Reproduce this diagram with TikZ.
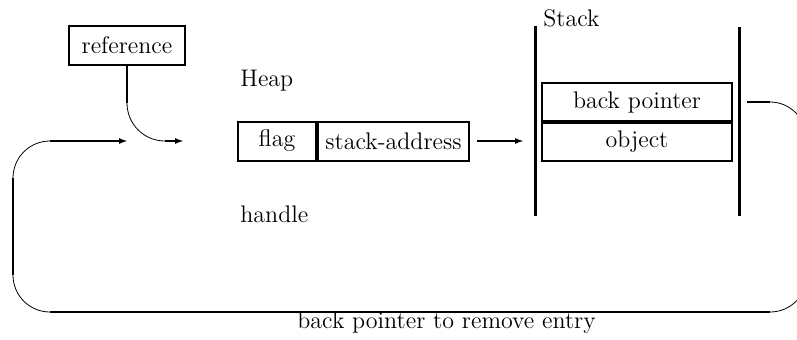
\documentclass[tikz,border=0pt]{standalone}
\usetikzlibrary{arrows.meta,positioning}

\begin{document}
\begin{tikzpicture}[x=0.5pt,y=-0.5pt,>={Latex[length=4.5pt,width=3pt]},font=\large]
  \tikzset{
    box/.style={draw,line width=1pt,minimum height=19.5pt,inner sep=0pt},
    link/.style={line width=1.3pt},
    curl/.style={line width=0.4pt},
    wall/.style={line width=1.5pt},
    plain/.style={anchor=base west,inner sep=0pt}
  }
  \useasboundingbox (0,0) rectangle (797,339);

  % boxes
  \node[box,minimum width=58pt] (ref) at (127,45) {reference};
  \node[box,minimum width=39pt] (flag) at (277,141) {flag};
  \node[box,minimum width=75.5pt,right=0pt of flag] (sa) {stack-address};
  \node[box,minimum width=95pt,minimum height=19pt] (bp) at (637,102) {back pointer};
  \node[box,minimum width=95pt,minimum height=19pt,below=0pt of bp] (obj) {object};

  % texts
  \node[plain] (heap) at (240,86) {Heap};
  \node[plain] (handle) at (240,222) {handle};
  \node[plain] (stack) at (543,26) {Stack};
  \node[plain] (remove) at (297,328) {back pointer to remove entry};

  % stack walls
  \draw[wall] (535,26) -- (535,216);
  \draw[wall] (739,27) -- (739,216);

  % reference into the handle
  \coordinate (refdrop) at (127,103);
  \coordinate (refturn) at (165,141);
  \coordinate (refin) at (184,141);
  \draw[link] (ref.south) -- (refdrop);
  \draw[curl] (refdrop) to[out=-90,in=180] (refturn);
  \draw[link,->] (refturn) -- (refin);

  % handle into the stack
  \coordinate (push) at (524,141);
  \draw[link,->] ([xshift=3.5pt]sa.east) -- (push |- sa.east);

  % back pointer round to the handle
  \coordinate (b1) at (770,102);
  \coordinate (b2) at (807,140);
  \coordinate (b3) at (807,275);
  \coordinate (b4) at (770,312);
  \coordinate (b5) at (50,312);
  \coordinate (b6) at (13,275);
  \coordinate (b7) at (13,178);
  \coordinate (b8) at (50,141);
  \coordinate (backin) at (128,141);
  \draw[link] ([xshift=7pt]bp.east) -- (b1 |- bp.east);
  \draw[curl] (b1) to[out=0,in=90] (b2);
  \draw[link] (b2) -- (b3);
  \draw[curl] (b3) to[out=-90,in=0] (b4);
  \draw[link] (b4) -- (b5);
  \draw[curl] (b5) to[out=180,in=-90] (b6);
  \draw[link] (b6) -- (b7);
  \draw[curl] (b7) to[out=90,in=180] (b8);
  \draw[link,->] (b8) -- (backin);
\end{tikzpicture}
\end{document}
